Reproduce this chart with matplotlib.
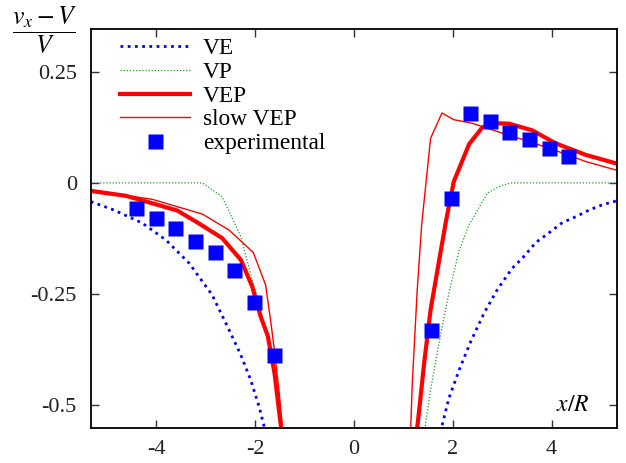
import matplotlib
matplotlib.use("Agg")
import matplotlib.pyplot as plt
from matplotlib.ticker import FixedLocator, FixedFormatter

plt.rcParams['font.family'] = ['Liberation Serif', 'DejaVu Serif']
plt.rcParams['mathtext.fontset'] = 'stix'
plt.rcParams['axes.unicode_minus'] = False

# VE (blue dotted)
ve_left_x = [-5.33, -4.86, -4.29, -3.81, -3.34, -2.87, -2.53, -2.29, -2.09, -1.92, -1.79]
ve_left_y = [-0.042, -0.061, -0.090, -0.128, -0.180, -0.252, -0.330, -0.387, -0.443, -0.503, -0.56]
ve_right_x = [1.75, 1.92, 2.13, 2.36, 2.63, 2.90, 3.20, 3.41, 3.68, 3.95, 4.22, 4.49, 4.76, 5.03, 5.33]
ve_right_y = [-0.56, -0.484, -0.420, -0.357, -0.293, -0.240, -0.192, -0.169, -0.134, -0.112, -0.089, -0.076, -0.061, -0.049, -0.040]

# VP (green dotted)
vp_left_x = [-5.33, -3.07, -2.67, -2.29, -2.06, -1.96, -1.88, -1.745, -1.61, -1.47]
vp_left_y = [0.0, 0.0, -0.031, -0.121, -0.218, -0.255, -0.29, -0.344, -0.427, -0.56]
vp_right_x = [1.43, 1.45, 1.55, 1.72, 1.92, 2.13, 2.33, 2.70, 2.94, 3.17, 5.33]
vp_right_y = [-0.56, -0.540, -0.465, -0.360, -0.248, -0.151, -0.094, -0.023, -0.008, 0.0, 0.0]

# VEP (thick red)
vep_left_x = [-5.33, -4.62, -4.08, -3.58, -3.14, -2.67, -2.29, -2.06, -1.89, -1.745, -1.61, -1.465]
vep_left_y = [-0.018, -0.029, -0.046, -0.062, -0.091, -0.124, -0.173, -0.233, -0.300, -0.344, -0.427, -0.56]
vep_right_x = [1.27, 1.32, 1.42, 1.55, 1.76, 1.86, 1.92, 2.02, 2.33, 2.60, 2.87, 3.14, 3.61, 4.08, 4.69, 5.33]
vep_right_y = [-0.56, -0.510, -0.405, -0.285, -0.151, -0.087, -0.053, 0.003, 0.087, 0.125, 0.134, 0.133, 0.118, 0.089, 0.063, 0.043]

# slow VEP (thin red)
slow_left_x = [-5.33, -4.08, -3.07, -2.53, -2.04, -1.79, -1.69, -1.62, -1.52, -1.44]
slow_left_y = [-0.016, -0.037, -0.070, -0.106, -0.156, -0.229, -0.308, -0.368, -0.465, -0.56]
slow_right_x = [1.145, 1.18, 1.28, 1.37, 1.55, 1.78, 2.02, 2.39, 2.80, 3.54, 4.15, 4.69, 5.33]
slow_right_y = [-0.56, -0.450, -0.240, -0.094, 0.100, 0.157, 0.142, 0.134, 0.119, 0.093, 0.070, 0.048, 0.028]

# experimental
exp_x = [-4.42, -4.00, -3.63, -3.22, -2.82, -2.43, -2.03, -1.62,
         1.55, 1.96, 2.34, 2.75, 3.13, 3.54, 3.94, 4.33]
exp_y = [-0.057, -0.078, -0.101, -0.130, -0.155, -0.195, -0.267, -0.386,
         -0.330, -0.033, 0.158, 0.138, 0.115, 0.099, 0.079, 0.061]

xticks = [-4, -2, 0, 2, 4]
xtick_labels = ['-4', '-2', '0', '2', '4']
yticks = [-0.5, -0.25, 0, 0.25]
ytick_labels = ['-0.5', '-0.25', '0', '0.25']

fig = plt.figure(figsize=(6.26, 4.63), dpi=100)
ax = fig.add_axes([0.1449, 0.0762, 0.8412, 0.8605])

blue = '#0000ff'
red = '#ff0000'
green = '#22a022'

ax.plot(ve_left_x, ve_left_y, color=blue, lw=2.0, ls=(0, (1, 1.6)),
        dash_capstyle='butt', label='VE')
ax.plot(ve_right_x, ve_right_y, color=blue, lw=2.0, ls=(0, (1, 1.6)),
        dash_capstyle='butt')
ax.plot(vp_left_x, vp_left_y, color=green, lw=0.9, ls=(0, (1, 1.5)), label='VP')
ax.plot(vp_right_x, vp_right_y, color=green, lw=0.9, ls=(0, (1, 1.5)))
ax.plot(vep_left_x, vep_left_y, color=red, lw=3.0, label='VEP')
ax.plot(vep_right_x, vep_right_y, color=red, lw=3.0)
ax.plot(slow_left_x, slow_left_y, color=red, lw=1.0, label='slow VEP')
ax.plot(slow_right_x, slow_right_y, color=red, lw=1.0)
ax.plot(exp_x, exp_y, ls='none', marker='s', ms=10.8, mfc=blue, mec='none',
        label='experimental')

ax.set_xlim(-5.33, 5.33)
ax.set_ylim(-0.55, 0.345)

ax.xaxis.set_major_locator(FixedLocator(xticks))
ax.xaxis.set_major_formatter(FixedFormatter(xtick_labels))
ax.yaxis.set_major_locator(FixedLocator(yticks))
ax.yaxis.set_major_formatter(FixedFormatter(ytick_labels))
ax.tick_params(direction='in', length=6, width=1, color='#333333',
               top=True, right=True, labelsize=16, colors='#222222')
ax.tick_params(axis='x', pad=9, labelcolor='#222222')
ax.tick_params(axis='y', pad=10, labelcolor='#222222')
for s in ax.spines.values():
    s.set_linewidth(1.3)

ax.text(4.42, -0.499, '$x/R$', fontsize=17, ha='center', va='center')
fig.text(0.072, 0.935, r'$\dfrac{v_x - V}{V}$', fontsize=18.5,
         ha='center', va='center')

ax.legend(loc='upper left', bbox_to_anchor=(0.056, 0.978), frameon=False,
          fontsize=16.8, handlelength=3.0, handletextpad=0.55, borderpad=0,
          borderaxespad=0, labelspacing=0.1)

fig.savefig('out.png', dpi=100)
